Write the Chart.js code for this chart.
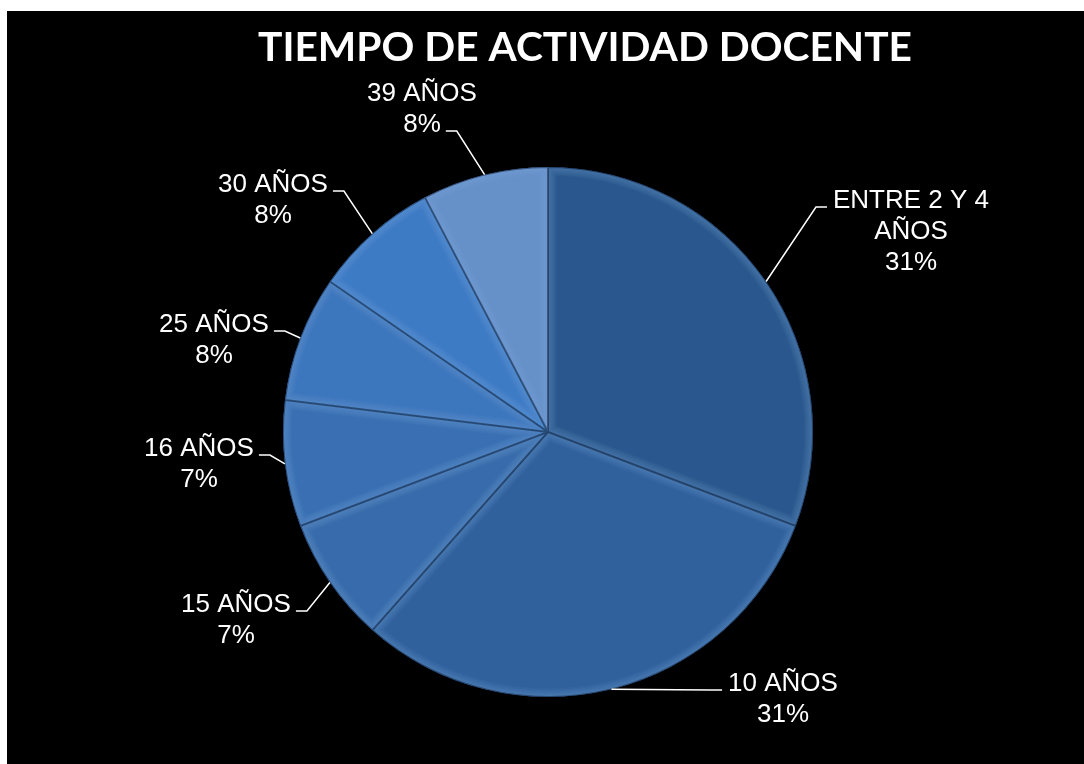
<!DOCTYPE html>
<html>
<head>
<meta charset="utf-8">
<script src="https://cdn.jsdelivr.net/npm/chart.js@4"></script>
<style>
  html, body { margin: 0; padding: 0; background: #ffffff; }
  #wrap { position: absolute; left: 0; top: 0; width: 1084px; height: 764px; }
</style>
</head>
<body>
<div id="wrap"><canvas id="c" width="1084" height="764"></canvas></div>
<script>
// ---- data ----
const chartTitle = 'TIEMPO DE ACTIVIDAD DOCENTE';
const categories = ['ENTRE 2 Y 4 AÑOS', '10 AÑOS', '15 AÑOS', '16 AÑOS', '25 AÑOS', '30 AÑOS', '39 AÑOS'];
const labelLines = [['ENTRE 2 Y 4', 'AÑOS'], ['10 AÑOS'], ['15 AÑOS'], ['16 AÑOS'], ['25 AÑOS'], ['30 AÑOS'], ['39 AÑOS']];
const sliceValues = [30.8, 30.8, 7.7, 7.7, 7.7, 7.7, 7.7];
const percentLabels = ['31%', '31%', '7%', '7%', '8%', '8%', '8%'];

// ---- style / layout ----
const sliceColors = ['#2a588e', '#31619c', '#386bab', '#3a70b3', '#3c76bd', '#3e7bc5', '#6690c8'];
// label anchor (text centre x, baseline of attached line) relative to pie centre; attach line index; side of leader
const labelLayout = [
  { dx: 363, dy: -224, attach: 0, side: 'left' },
  { dx: 235, dy: 259, attach: 0, side: 'left' },
  { dx: -312, dy: 180, attach: 0, side: 'right' },
  { dx: -349, dy: 24, attach: 0, side: 'right' },
  { dx: -334, dy: -100, attach: 0, side: 'right' },
  { dx: -275, dy: -240, attach: 0, side: 'right' },
  { dx: -126, dy: -300, attach: 1, side: 'right' }
];
const LABEL_FONT = '26px "Liberation Sans", Arial, sans-serif';
const LINE_H = 31;

const framePlugin = {
  id: 'frame',
  beforeDraw(chart) {
    const ctx = chart.ctx;
    ctx.save();
    ctx.fillStyle = '#ffffff';
    ctx.fillRect(0, 0, chart.width, chart.height);
    ctx.fillStyle = '#000000';
    ctx.fillRect(7, 11, chart.width - 7, chart.height - 11);
    // title
    ctx.font = 'bold 41px Lato, "Open Sans", sans-serif';
    ctx.fillStyle = '#ffffff';
    ctx.textBaseline = 'alphabetic';
    ctx.textAlign = 'center';
    const w = ctx.measureText(chartTitle).width;
    const sx = 654 / w;
    ctx.translate(585, 61);
    ctx.scale(sx, 1);
    ctx.fillText(chartTitle, 0, 0);
    ctx.restore();
  }
};

const bevelPlugin = {
  id: 'bevel',
  afterDatasetsDraw(chart) {
    const ctx = chart.ctx;
    const meta = chart.getDatasetMeta(0);
    meta.data.forEach((el) => {
      const { x, y, startAngle, endAngle, outerRadius } = el.getProps(['x', 'y', 'startAngle', 'endAngle', 'outerRadius'], true);
      ctx.save();
      ctx.beginPath();
      ctx.moveTo(x, y);
      ctx.arc(x, y, outerRadius, startAngle, endAngle);
      ctx.closePath();
      ctx.clip();
      ctx.lineJoin = 'miter';
      for (let k = 8; k >= 1; k--) {
        ctx.lineWidth = k * 2.2;
        ctx.strokeStyle = 'rgba(150,190,240,0.045)';
        ctx.stroke();
      }
      ctx.lineWidth = 2;
      ctx.strokeStyle = 'rgba(15,35,65,0.55)';
      ctx.stroke();
      ctx.restore();
    });
  }
};

const labelPlugin = {
  id: 'sliceLabels',
  afterDraw(chart) {
    const ctx = chart.ctx;
    const meta = chart.getDatasetMeta(0);
    ctx.save();
    ctx.font = LABEL_FONT;
    ctx.fillStyle = '#ffffff';
    ctx.strokeStyle = '#ffffff';
    ctx.lineWidth = 1.5;
    ctx.textAlign = 'center';
    ctx.textBaseline = 'alphabetic';
    meta.data.forEach((el, i) => {
      const { x, y, startAngle, endAngle, outerRadius } = el.getProps(['x', 'y', 'startAngle', 'endAngle', 'outerRadius'], true);
      const mid = (startAngle + endAngle) / 2;
      const px = x + Math.cos(mid) * outerRadius;
      const py = y + Math.sin(mid) * outerRadius;
      const L = labelLayout[i];
      const lines = labelLines[i].concat([percentLabels[i]]);
      const cx = x + L.dx;
      const baseY = y + L.dy - L.attach * LINE_H;
      lines.forEach((t, k) => ctx.fillText(t, cx, baseY + k * LINE_H));
      const aw = ctx.measureText(lines[L.attach]).width;
      const ay = y + L.dy - 1;
      let e1, e2;
      if (L.side === 'left') { e1 = cx - aw / 2 - 6; e2 = e1 - 11; }
      else { e1 = cx + aw / 2 + 5; e2 = e1 + 11; }
      ctx.beginPath();
      ctx.moveTo(e1, ay);
      ctx.lineTo(e2, ay);
      ctx.lineTo(px, py);
      ctx.stroke();
    });
    ctx.restore();
  }
};

new Chart(document.getElementById('c'), {
  type: 'pie',
  data: {
    labels: categories,
    datasets: [{
      data: sliceValues,
      backgroundColor: sliceColors,
      borderWidth: 0
    }]
  },
  options: {
    responsive: false,
    animation: false,
    layout: { padding: { left: 283, right: 271, top: 167, bottom: 67 } },
    plugins: {
      legend: { display: false },
      title: { display: false },
      tooltip: { enabled: false }
    }
  },
  plugins: [framePlugin, bevelPlugin, labelPlugin]
});
</script>
</body>
</html>
